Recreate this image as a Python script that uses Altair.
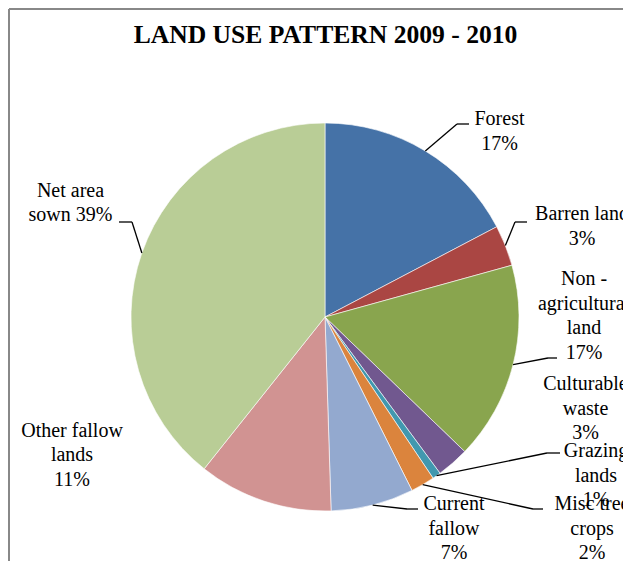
import altair as alt
import pandas as pd
import numpy as np

# ---- data ----
categories = ["Forest", "Barren land", "Non - agricultural land", "Culturable waste",
              "Grazing lands", "Misc tree crops", "Current fallow",
              "Other fallow lands", "Net area sown"]
values = [17.3, 3.4, 16.5, 2.7, 0.7, 2.0, 6.9, 11.2, 39.3]
colors = ["#4572A7", "#AA4643", "#89A54E", "#71588F", "#4198AF",
          "#DB843D", "#93A9CF", "#D19392", "#B9CD96"]
label_templates = ["Forest\n{p}%", "Barren land\n{p}%", "Non -\nagricultural\nland\n{p}%",
                   "Culturable\nwaste\n{p}%", "Grazing\nlands\n{p}%", "Misc tree\ncrops\n{p}%",
                   "Current\nfallow\n{p}%", "Other fallow\nlands\n{p}%", "Net area\nsown  {p}%"]
title_text = "LAND USE PATTERN 2009 - 2010"

# ---- layout (annotation placement) ----
W, H = 615, 553
CX, CY, R = 317, 309, 194
label_x = [491.5, 574, 576, 577.5, 588, 584, 446, 64, 62.5]
label_y = [117, 212, 277, 382, 449, 502, 502, 428.7, 188.7]
# leader elbow and end points (None = no leader)
leader_elbow = [(449, 116), (507, 214), (540, 350), None, (539, 445), (525, 501), (399, 501), None, (124, 214)]
leader_end = [(461, 116), (519, 214), (549, 350), None, (552, 445), (535, 501), (410, 501), None, (111, 214)]

FONT = "Liberation Serif"

df = pd.DataFrame({"category": categories, "value": values, "order": range(len(categories))})

labels = pd.DataFrame({
    "text": [t.format(p=int(v + 0.5)) for t, v in zip(label_templates, values)],
    "x": label_x,
    "y": label_y,
})

cum = np.cumsum(values)
mid = (cum - np.array(values) / 2) / cum[-1] * 2 * np.pi
seg_rows = []
for i, c in enumerate(categories):
    if leader_elbow[i] is None:
        continue
    sx = CX + R * np.sin(mid[i])
    sy = CY - R * np.cos(mid[i])
    ex, ey = leader_elbow[i]
    fx, fy = leader_end[i]
    seg_rows.append({"x": sx, "y": sy, "x2": ex, "y2": ey})
    seg_rows.append({"x": ex, "y": ey, "x2": fx, "y2": fy})
segs = pd.DataFrame(seg_rows)

pie = alt.Chart(df).mark_arc(outerRadius=R, stroke="white", strokeWidth=0.6).encode(
    theta=alt.Theta("value:Q", stack=True),
    order=alt.Order("order:Q", sort="ascending"),
    color=alt.Color("category:N", scale=alt.Scale(domain=categories, range=colors), legend=None),
    x=alt.value(CX),
    y=alt.value(CY),
)

leaders = alt.Chart(segs).mark_rule(color="black", strokeWidth=1.3).encode(
    x=alt.X("x:Q", scale=None),
    y=alt.Y("y:Q", scale=None),
    x2="x2:Q",
    y2="y2:Q",
)

text = alt.Chart(labels).mark_text(
    font=FONT, fontSize=20, align="center", baseline="alphabetic",
    lineBreak="\n", lineHeight=24.5, color="black"
).encode(
    x=alt.X("x:Q", scale=None),
    y=alt.Y("y:Q", scale=None),
    text="text:N",
)

title = alt.Chart(pd.DataFrame({"t": [title_text]})).mark_text(
    font=FONT, fontSize=25.6, fontWeight="bold", align="center", baseline="alphabetic", color="black"
).encode(x=alt.value(317.5), y=alt.value(35.3), text="t:N")

frame_left = alt.Chart(pd.DataFrame({"a": [0]})).mark_rule(color="#888888", strokeWidth=2).encode(
    x=alt.value(1), y=alt.value(1), y2=alt.value(H + 20))
frame_top = alt.Chart(pd.DataFrame({"a": [0]})).mark_rule(color="#888888", strokeWidth=2).encode(
    y=alt.value(1), x=alt.value(1), x2=alt.value(W + 20))

chart = alt.layer(frame_left, frame_top, pie, leaders, text, title).properties(
    width=W, height=H, padding=0, autosize=alt.AutoSizeParams(type="none"),
    background="white"
).configure_view(stroke=None)

chart.save("out.html", embed_options={"renderer": "svg", "actions": False})
